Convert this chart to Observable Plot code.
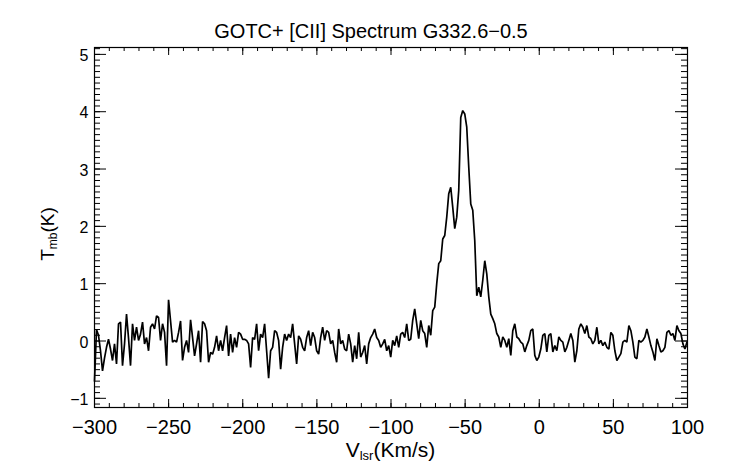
<!DOCTYPE html>
<html><head><meta charset="utf-8">
<script src="https://cdn.jsdelivr.net/npm/d3@7"></script>
<script src="https://cdn.jsdelivr.net/npm/@observablehq/plot@0.6"></script>
<style>body{margin:0;background:#fff}</style>
</head><body><div id="chart"></div>
<script>
const title = "GOTC+ [CII] Spectrum G332.6\u22120.5";
const xLabelMain = "V", xLabelSub = "lsr", xLabelUnit = "(Km/s)";
const yLabelMain = "T", yLabelSub = "mb", yLabelUnit = "(K)";

// spectral axis: first channel velocity and channel width (km/s)
const V0 = -300, DV = 1.35;
// main-beam temperature per channel (K)
const tmb = [
-0.70,0.20,0.10,
-0.17,-0.52,-0.30,-0.11,0.03,-0.14,-0.34,-0.05,-0.40,0.30,0.33,-0.43,-0.05,0.47,0.05,-0.43,0.30,0.01,0.24,0.01,0.12,0.33,-0.05,0.06,-0.17,0.24,0.30,0.21,0.44,0.41,0.01,0.30,0.15,-0.43,0.72,
0.35,-0.02,0.01,-0.02,0.15,0.35,-0.34,-0.11,0.01,-0.20,0.37,0.06,-0.26,-0.05,0.18,-0.37,0.34,0.30,0.18,-0.37,-0.20,-0.23,-0.11,0.09,-0.17,0.01,-0.17,0.06,0.27,-0.26,0.12,-0.20,0.06,-0.11,0.15,0.12,0.03,0.03,0.01,-0.05,-0.46,0.06,
0.03,0.30,-0.17,0.12,0.06,0.30,-0.17,-0.65,-0.17,-0.11,
0.18,0.15,0.01,-0.49,-0.11,0.12,0.01,0.12,0.06,0.30,
-0.05,-0.40,0.09,0.03,-0.11,-0.17,0.06,0.18,-0.08,0.15,
0.06,-0.17,-0.23,0.06,0.24,0.01,0.18,0.15,-0.05,0.01,
-0.20,-0.37,0.21,-0.05,0.01,-0.14,-0.17,0.12,-0.05,-0.37,
-0.08,-0.31,0.15,-0.28,-0.20,-0.08,-0.40,-0.05,0.06,0.12,
0.21,0.06,0.01,-0.11,-0.05,0.03,-0.17,-0.08,-0.28,0.01,
-0.08,0.09,-0.11,0.12,0.15,0.06,0.30,0.01,0.03,
0.36,0.56,0.30,0.04,0.36,0.18,0.13,-0.11,0.27,0.10,
0.53,0.59,1.00,1.35,1.40,1.78,1.84,2.16,2.57,2.68,
2.33,1.96,2.16,2.63,3.90,4.02,3.96,3.73,3.03,2.39,
2.28,1.75,0.79,0.94,0.77,1.06,1.40,1.17,0.77,0.47,
0.39,0.30,0.13,0.07,-0.11,0.07,0.01,-0.11,0.04,-0.25,
0.18,0.30,0.07,0.04,
-0.02,-0.05,-0.19,-0.08,0.01,0.18,0.21,-0.25,-0.34,-0.28,-0.14,
0.10,0.13,-0.19,0.10,0.13,-0.19,-0.08,-0.17,0.07,0.01,
-0.02,-0.19,-0.11,0.01,0.13,0.01,-0.37,-0.17,0.21,0.30,
0.24,0.13,0.27,0.07,0.04,-0.05,0.01,0.24,-0.05,0.01,
-0.08,-0.02,-0.11,-0.14,0.15,0.10,-0.17,-0.34,-0.28,-0.22,
-0.02,0.01,-0.02,0.27,0.18,-0.02,-0.28,-0.31,0.01,-0.02,
0.01,0.07,0.21,0.07,-0.08,-0.19,-0.34,0.04,-0.08,-0.19,
-0.17,-0.11,0.15,0.18,0.10,0.13,0.01,0.27,0.18,0.13,
-0.05,-0.14,-0.02
];

const xDomain = [-300, 100];
const yDomain = [-1.16, 5.12];
const xMajor = [-300, -250, -200, -150, -100, -50, 0, 50, 100];
const yMajor = [-1, 0, 1, 2, 3, 4, 5];
const xMinor = d3.range(-300, 101, 10);
const yMinor = d3.range(-11, 52).map(d => d / 10);

const data = tmb.map((t, i) => ({v: V0 + i * DV, t}));
const fmt = d => (d < 0 ? "\u2212" : "") + Math.abs(d);

const W = 742, H = 464, mL = 94, mR = 55, mT = 47, mB = 57;
const iw = W - mL - mR, ih = H - mT - mB;
const font = "'Liberation Sans', Arial, Helvetica, sans-serif";

const chart = Plot.plot({
  width: W, height: H,
  marginLeft: mL, marginRight: mR, marginTop: mT, marginBottom: mB,
  style: {fontFamily: font, background: "#fff", color: "#000"},
  x: {domain: xDomain},
  y: {domain: yDomain},
  marks: [
    Plot.ruleX(xMinor, {insetTop: ih - 4, stroke: "#000", strokeWidth: 1}),
    Plot.ruleX(xMinor, {insetBottom: ih - 4, stroke: "#000", strokeWidth: 1}),
    Plot.ruleX(xMajor, {insetTop: ih - 8, stroke: "#000", strokeWidth: 1}),
    Plot.ruleX(xMajor, {insetBottom: ih - 8, stroke: "#000", strokeWidth: 1}),
    Plot.ruleY(yMinor, {insetRight: iw - 6, stroke: "#000", strokeWidth: 1}),
    Plot.ruleY(yMinor, {insetLeft: iw - 6, stroke: "#000", strokeWidth: 1}),
    Plot.ruleY(yMajor, {insetRight: iw - 12, stroke: "#000", strokeWidth: 1}),
    Plot.ruleY(yMajor, {insetLeft: iw - 12, stroke: "#000", strokeWidth: 1}),
    Plot.line(data, {x: "v", y: "t", stroke: "#000", strokeWidth: 1.7, strokeLinejoin: "miter"}),
    Plot.frame({stroke: "#000", strokeWidth: 1.2}),
    Plot.axisX(xMajor, {tickSize: 0, tickPadding: 12, fontSize: 20, label: null, fill: "#000", tickFormat: fmt}),
    Plot.axisY(yMajor, {tickSize: 0, tickPadding: 6, fontSize: 16, label: null, fill: "#000", dy: 1.5, tickFormat: fmt})
  ]
});

const svg = d3.select(chart);
svg.append("text")
  .attr("x", W / 2).attr("y", 38)
  .attr("text-anchor", "middle").attr("font-size", 20).attr("fill", "#000")
  .text(title);

const xl = svg.append("text")
  .attr("x", mL + iw / 2).attr("y", 457)
  .attr("text-anchor", "middle").attr("font-size", 21).attr("fill", "#000");
xl.append("tspan").attr("fill", "#000").text(xLabelMain);
xl.append("tspan").attr("fill", "#000").attr("font-size", 13).attr("dy", 3).text(xLabelSub);
xl.append("tspan").attr("fill", "#000").attr("dy", -3).text(xLabelUnit);

const yl = svg.append("text")
  .attr("transform", `translate(54,${mT + ih / 2 + 7}) rotate(-90)`)
  .attr("text-anchor", "middle").attr("font-size", 19).attr("fill", "#000");
yl.append("tspan").attr("fill", "#000").text(yLabelMain);
yl.append("tspan").attr("fill", "#000").attr("font-size", 12).attr("dy", 3).text(yLabelSub);
yl.append("tspan").attr("fill", "#000").attr("dy", -3).text(yLabelUnit);

document.getElementById("chart").appendChild(chart);
</script>
</body></html>
